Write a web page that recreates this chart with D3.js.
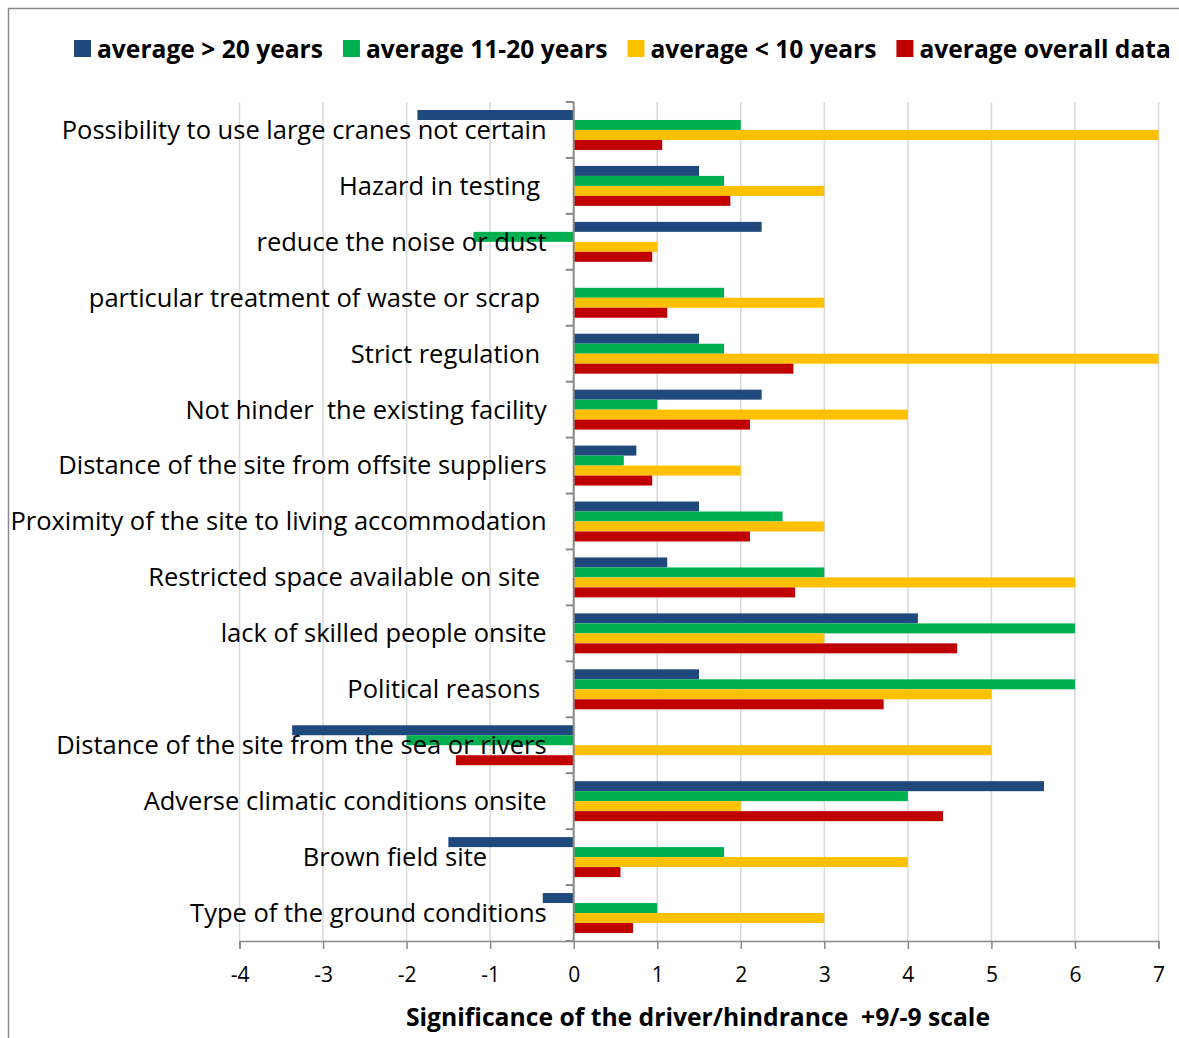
<!DOCTYPE html>
<html>
<head>
<meta charset="utf-8">
<script src="https://cdn.jsdelivr.net/npm/d3@7/dist/d3.min.js"></script>
<style>
  html, body { margin: 0; padding: 0; background: #fff; }
  text { font-family: "Open Sans", sans-serif; }
</style>
</head>
<body>
<svg id="chart" width="1179" height="1038"></svg>
<script>
// ---- data ----
const categories = [
  "Possibility to use large cranes not certain",
  "Hazard in testing ",
  "reduce the noise or dust",
  "particular treatment of waste or scrap ",
  "Strict regulation ",
  "Not hinder  the existing facility",
  "Distance of the site from offsite suppliers",
  "Proximity of the site to living accommodation",
  "Restricted space available on site ",
  "lack of skilled people onsite",
  "Political reasons ",
  "Distance of the site from the sea or rivers",
  "Adverse climatic conditions onsite",
  "Brown field site         ",
  "Type of the ground conditions"
];
const seriesNames = ["average > 20 years", "average 11-20 years", "average < 10 years", "average overall data"];
const over20   = [-1.87, 1.5, 2.25, 0, 1.5, 2.25, 0.75, 1.5, 1.12, 4.12, 1.5, -3.37, 5.63, -1.5, -0.37];
const mid11_20 = [2.0, 1.8, -1.2, 1.8, 1.8, 1.0, 0.6, 2.5, 3.0, 6.0, 6.0, -2.0, 4.0, 1.8, 1.0];
const under10  = [7, 3, 1, 3, 7, 4, 2, 3, 6, 3, 5, 5, 2, 4, 3];
const overall  = [1.06, 1.875, 0.94, 1.12, 2.63, 2.11, 0.94, 2.11, 2.65, 4.59, 3.71, -1.41, 4.42, 0.56, 0.71];
const xTicks = [-4, -3, -2, -1, 0, 1, 2, 3, 4, 5, 6, 7];
const xTitle = "Significance of the driver/hindrance  +9/-9 scale";
const colors = ["#1F497D", "#00B050", "#FFC000", "#C00000"];

const seriesValues = [over20, mid11_20, under10, overall];

// ---- layout ----
const svg = d3.select("#chart");
const plot = { left: 239.5, right: 1158.5, top: 102, bottom: 941 };
const x = d3.scaleLinear().domain([-4, 7]).range([plot.left, plot.right]);
const y = d3.scaleBand().domain(categories).range([plot.top, plot.bottom]).padding(0);
const ys = d3.scaleBand().domain(seriesNames).range([0, y.bandwidth()]).paddingInner(0).paddingOuter(0.8);

// border
svg.append("rect").attr("x", 8.5).attr("y", 8.5).attr("width", 1300).attr("height", 1200)
  .attr("fill", "none").attr("stroke", "#898989").attr("stroke-width", 1.5);

// gridlines
svg.append("g").selectAll("line").data(xTicks).join("line")
  .attr("x1", d => x(d)).attr("x2", d => x(d))
  .attr("y1", plot.top).attr("y2", plot.bottom)
  .attr("stroke", "#d9d9d9").attr("stroke-width", 1.5);

// bars
const rows = [];
categories.forEach((c, i) => {
  seriesNames.forEach((s, j) => rows.push({ cat: c, series: s, value: seriesValues[j][i], color: colors[j] }));
});
svg.append("g").selectAll("rect").data(rows).join("rect")
  .attr("x", d => Math.min(x(0), x(d.value)))
  .attr("width", d => Math.abs(x(d.value) - x(0)))
  .attr("y", d => y(d.cat) + ys(d.series))
  .attr("height", ys.bandwidth())
  .attr("fill", d => d.color);

// y axis line + ticks at band boundaries
const yAxisG = svg.append("g");
yAxisG.append("line").attr("x1", x(0)).attr("x2", x(0)).attr("y1", plot.top).attr("y2", plot.bottom)
  .attr("stroke", "#898989").attr("stroke-width", 2);
const bounds = categories.map(c => y(c)).concat([plot.bottom]);
yAxisG.selectAll("line.tk").data(bounds).join("line").attr("class", "tk")
  .attr("x1", x(0) - 8).attr("x2", x(0)).attr("y1", d => d).attr("y2", d => d)
  .attr("stroke", "#898989").attr("stroke-width", 2);

// category labels
svg.append("g").selectAll("text").data(categories).join("text")
  .attr("x", x(0) - 27)
  .attr("y", d => y(d) + y.bandwidth() / 2)
  .attr("dy", "0.35em")
  .attr("text-anchor", "end")
  .style("white-space", "pre")
  .attr("font-size", 25.5)
  .attr("fill", "#000")
  .text(d => d);

// x axis
const xAxis = d3.axisBottom(x).tickValues(xTicks).tickSize(8).tickPadding(18).tickFormat(d => String(d));
const xg = svg.append("g").attr("transform", `translate(0,${plot.bottom})`).call(xAxis);
xg.select(".domain").attr("stroke", "#898989").attr("stroke-width", 1.5);
xg.selectAll(".tick line").attr("stroke", "#898989").attr("stroke-width", 1.5);
xg.selectAll(".tick text").attr("font-size", 21).attr("font-family", "'Open Sans', sans-serif").attr("fill", "#000");

// axis title
svg.append("text").attr("x", 698).attr("y", 1017).attr("dy", "0.35em")
  .attr("text-anchor", "middle").attr("font-weight", "bold").attr("font-size", 24.7)
  .style("white-space", "pre").text(xTitle);

// legend
const lg = svg.append("g");
let lx = 74;
seriesNames.forEach((s, j) => {
  lg.append("rect").attr("x", lx).attr("y", 40).attr("width", 17).attr("height", 17).attr("fill", colors[j]);
  const t = lg.append("text").attr("x", lx + 23).attr("y", 49).attr("dy", "0.35em")
    .attr("font-weight", "bold").attr("font-size", 24.6).text(s);
  lx += 23 + t.node().getComputedTextLength() + 20;
});
</script>
</body>
</html>
